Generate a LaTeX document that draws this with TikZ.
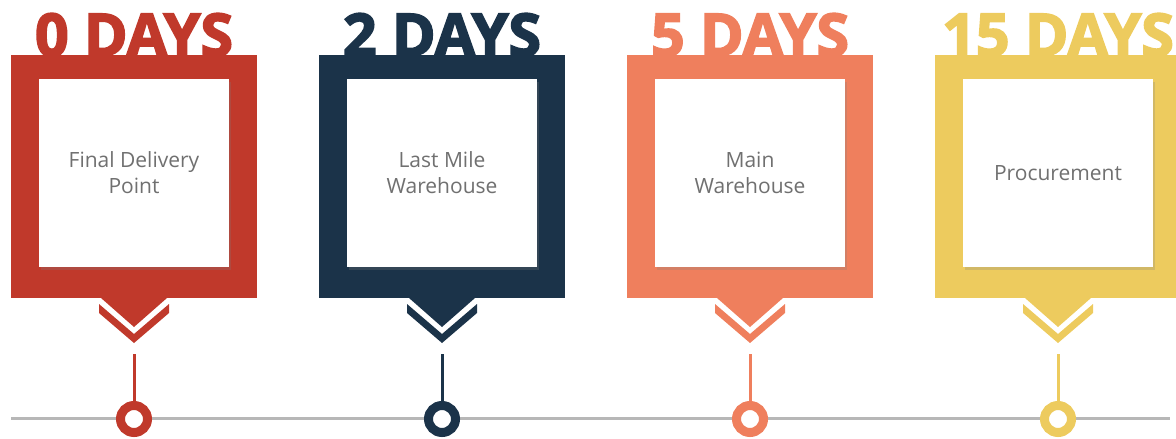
\documentclass[tikz,border=0pt]{standalone}
\usepackage{fontspec}
\setmainfont{Open Sans}
\newfontfamily\headfont[BoldFeatures={FakeBold=3}]{Open Sans}
\usetikzlibrary{shadows}
\definecolor{brick}{HTML}{C0392B}
\definecolor{navy}{HTML}{1B3349}
\definecolor{coral}{HTML}{EF7F5D}
\definecolor{mustard}{HTML}{EDCB5E}
\definecolor{linegray}{HTML}{B7B7B7}
\definecolor{textgray}{HTML}{707070}
\begin{document}
\begin{tikzpicture}[x=1pt,y=-1pt,
  frame/.style={fill=#1,minimum width=246pt,minimum height=243pt,inner sep=0pt},
  card/.style={fill=white,minimum width=190pt,minimum height=188pt,inner sep=0pt,align=center,text=textgray,font=\fontsize{21}{26}\selectfont,drop shadow={shadow xshift=2pt,shadow yshift=-3pt,opacity=0.25}},
  days/.style={anchor=base,text=#1,inner sep=0pt,font=\headfont\bfseries\fontsize{59}{59}\selectfont},
  ring/.style={circle,draw=#1,fill=white,line width=9pt,minimum size=27pt,inner sep=0pt},
  stem/.style={draw=#1,line width=3pt}]
\clip (0,0) rectangle (1176,439);
\coordinate (l0) at (11,418);
\coordinate (l1) at (1170,418);
\draw[linegray,line width=3pt] (l0) -- (l1);
\foreach \i/\cx/\col/\days/\txt in {1/134/brick/0 DAYS/{Final Delivery\\Point},2/442/navy/2 DAYS/{Last Mile\\Warehouse},3/750/coral/5 DAYS/{Main\\Warehouse},4/1058/mustard/15 DAYS/{Procurement}} {
  \node[frame=\col] (p\i) at (\cx,176.5) {};
  \node[card] (b\i) at (\cx,173) {\txt};
  \node[days=\col] (h\i) at (\cx,56) {\days};
  \fill[\col] ({\cx-33},298) -- ({\cx+33},298) -- (\cx,327) -- cycle;
  \fill[\col] ({\cx-35},304) -- (\cx,334) -- ({\cx+35},304) -- ({\cx+35},313) -- (\cx,343) -- ({\cx-35},313) -- cycle;
  \coordinate (s\i) at (\cx,354);
  \node[ring=\col] (c\i) at (\cx,419) {};
  \draw[stem=\col] (s\i) -- (c\i);
}
\end{tikzpicture}
\end{document}
